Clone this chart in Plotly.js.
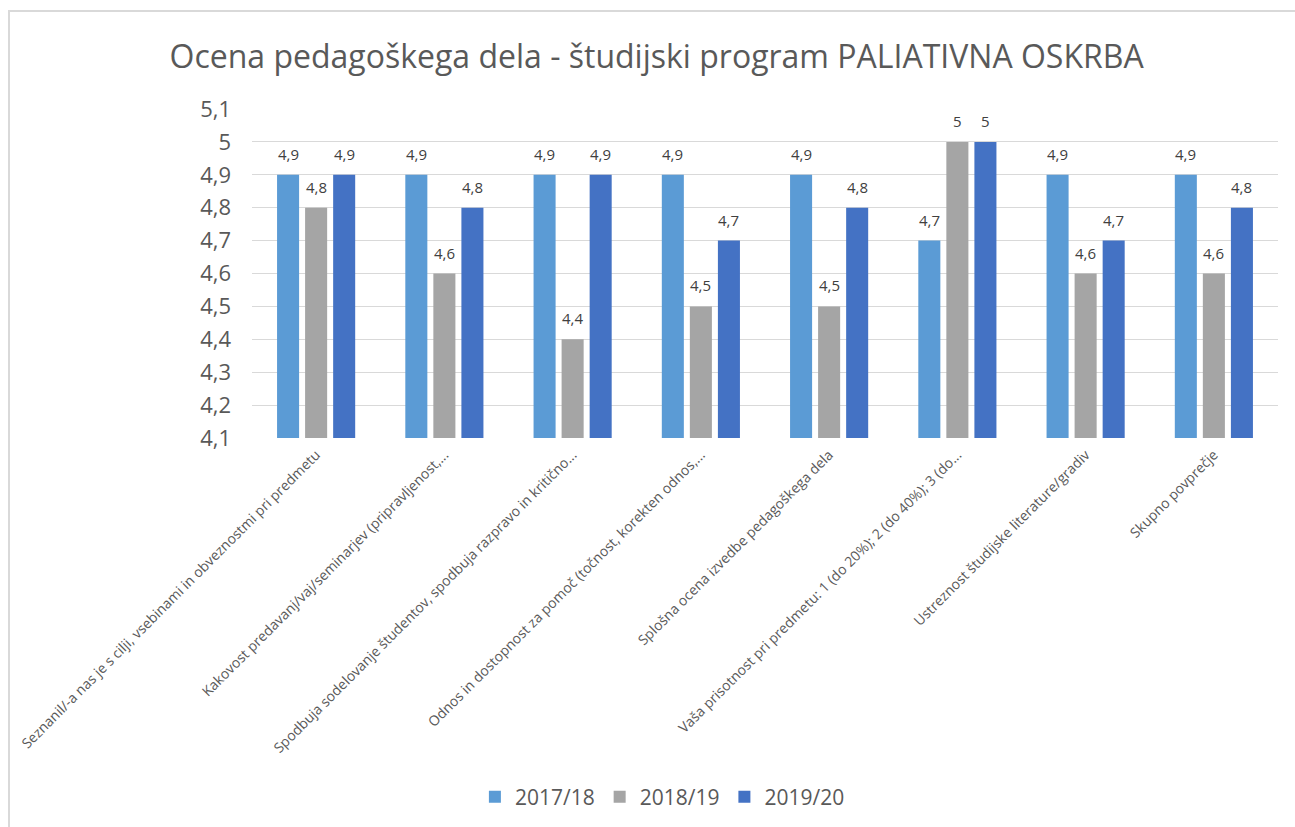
<!DOCTYPE html>
<html>
<head>
<meta charset="utf-8">
<script src="https://cdn.plot.ly/plotly-3.0.1.min.js"></script>
<style>
  html, body { margin:0; padding:0; background:#fff; }
  #frame { position:absolute; left:8px; top:10px; width:1400px; height:900px; border-left:2px solid #d9d9d9; border-top:2px solid #d9d9d9; box-sizing:border-box; pointer-events:none; z-index:5; }
  #chart { position:absolute; left:0; top:0; width:1295px; height:827px; }
</style>
</head>
<body>
<div id="chart"></div>
<div id="frame"></div>
<script>
const categories = [
  "Seznanil/-a nas je s cilji, vsebinami in obveznostmi pri predmetu",
  "Kakovost predavanj/vaj/seminarjev (pripravljenost,...",
  "Spodbuja sodelovanje študentov, spodbuja razpravo in kritično...",
  "Odnos in dostopnost za pomoč (točnost, korekten odnos,...",
  "Splošna ocena izvedbe pedagoškega dela",
  "Vaša prisotnost pri predmetu: 1 (do 20%); 2 (do 40%); 3 (do...",
  "Ustreznost študijske literature/gradiv",
  "Skupno povprečje"
];
const seriesNames = ["2017/18", "2018/19", "2019/20"];
const v2017 = [4.9, 4.9, 4.9, 4.9, 4.9, 4.7, 4.9, 4.9];
const v2018 = [4.8, 4.6, 4.4, 4.5, 4.5, 5.0, 4.6, 4.6];
const v2019 = [4.9, 4.8, 4.9, 4.7, 4.8, 5.0, 4.7, 4.8];
const yTicks = [4.1, 4.2, 4.3, 4.4, 4.5, 4.6, 4.7, 4.8, 4.9, 5.0, 5.1];
const colors = ["#5B9BD5", "#A5A5A5", "#4472C4"];

const allSeries = [v2017, v2018, v2019];
const fmt = v => String(Math.round(v * 10) / 10).replace('.', ',');

const traces = allSeries.map((vals, i) => ({
  type: 'bar',
  name: seriesNames[i],
  x: categories,
  y: vals,
  marker: { color: colors[i] },
  hoverinfo: 'skip'
}));

const slotPx = 28;
const annotations = [];
allSeries.forEach((vals, i) => {
  vals.forEach((v, j) => {
    annotations.push({
      x: categories[j], y: v, xref: 'x', yref: 'y',
      text: fmt(v), showarrow: false,
      xshift: (i - 1) * slotPx, yshift: 21,
      yanchor: 'middle', xanchor: 'center',
      font: { family: 'Open Sans, sans-serif', size: 15, color: '#404040' }
    });
  });
});

const layout = {
  width: 1295, height: 827,
  paper_bgcolor: '#fff', plot_bgcolor: '#fff',
  separators: ', ',
  margin: { l: 252, r: 17, t: 109, b: 388 },
  title: {
    text: 'Ocena pedagoškega dela - študijski program PALIATIVNA OSKRBA',
    font: { family: 'Open Sans, sans-serif', size: 32, color: '#595959' },
    x: 0.507, xanchor: 'center', y: 0.931, yanchor: 'middle'
  },
  barmode: 'group',
  bargap: 0.344,
  bargroupgap: 0.214,
  showlegend: true,
  legend: {
    orientation: 'h', x: 0.40, xanchor: 'center', y: -1.085, yanchor: 'middle',
    font: { family: 'Open Sans, sans-serif', size: 21, color: '#595959' },
    itemwidth: 30, traceorder: 'normal'
  },
  xaxis: {
    type: 'category',
    tickangle: -45,
    tickfont: { family: 'Open Sans, sans-serif', size: 14, color: '#595959' },
    showgrid: false, zeroline: false, showline: false, ticks: '',
    ticklabelstandoff: 5,
    automargin: false
  },
  yaxis: {
    range: [4.1, 5.1],
    tickvals: yTicks,
    ticktext: yTicks.map(fmt),
    tickfont: { family: 'Open Sans, sans-serif', size: 22, color: '#595959' },
    showgrid: true, gridcolor: '#d9d9d9', gridwidth: 1,
    zeroline: false, showline: false, ticks: '',
    ticklabelstandoff: 20,
    automargin: false
  },
  annotations: annotations
};

Plotly.newPlot('chart', traces, layout, { displayModeBar: false, staticPlot: true });
</script>
</body>
</html>
